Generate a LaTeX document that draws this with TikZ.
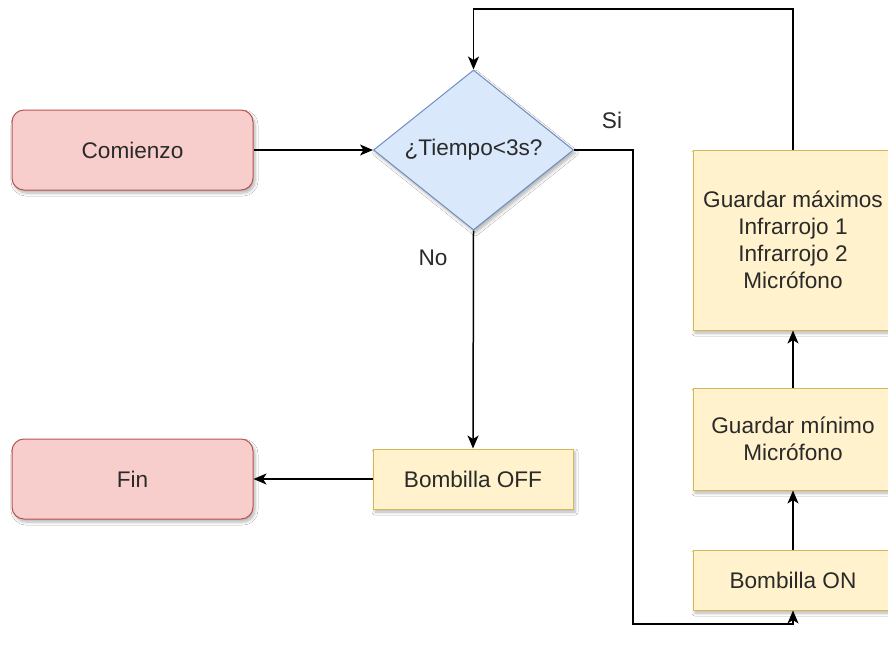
\documentclass[tikz,border=0pt]{standalone}
\usepackage{fontspec}
\setmainfont{Liberation Sans}
\usetikzlibrary{shapes.geometric,arrows.meta,shadows.blur}

\definecolor{termfill}{HTML}{F8CECC}
\definecolor{termline}{HTML}{B85450}
\definecolor{procfill}{HTML}{FFF2CC}
\definecolor{procline}{HTML}{D6B656}
\definecolor{decfill}{HTML}{DAE8FC}
\definecolor{decline}{HTML}{6C8EBF}
\definecolor{txt}{HTML}{2A2A2A}

\tikzset{
  softshadow/.style={blur shadow={shadow xshift=2pt,shadow yshift=-3pt,
      shadow blur steps=6,shadow blur radius=3pt,shadow opacity=30}},
  terminal/.style={draw=termline,fill=termfill,rounded corners=12pt,
      minimum width=241pt,minimum height=80pt,line width=1pt,softshadow},
  process/.style={draw=procline,fill=procfill,minimum width=200pt,
      line width=1pt,softshadow,align=center},
  decision/.style={draw=decline,fill=decfill,diamond,minimum width=200pt,
      minimum height=160pt,inner sep=0pt,line width=1pt,softshadow},
  flow/.style={line width=1.5pt,-{Stealth[length=13pt,width=11pt,inset=3.5pt]}},
  lbl/.style={text=txt,font=\fontsize{22.6}{27}\selectfont},
  every node/.append style={text=txt,font=\fontsize{22.6}{27}\selectfont},
}

\begin{document}
\begin{tikzpicture}[x=1pt,y=-1pt]
  \useasboundingbox[fill=white] (0,0) rectangle (888,654);

  % shapes
  \node[terminal] (start) at (132.5,150) {Comienzo};
  \node[decision] (dec) at (473.5,150) {¿Tiempo<3s?};
  \node[terminal] (fin) at (132.5,479) {Fin};
  \node[process,minimum height=60pt] (off) at (473,479) {Bombilla OFF};
  \node[process,minimum height=180pt] (maxv) at (793,240)
      {Guardar máximos\\Infrarrojo 1\\Infrarrojo 2\\Micrófono};
  \node[process,minimum height=102pt] (minv) at (793,439)
      {Guardar mínimo\\Micrófono};
  \node[process,minimum height=60pt] (on) at (793,580) {Bombilla ON};

  % branch labels
  \node[lbl] (si) at (612,120) {Si};
  \node[lbl] (no) at (433,258) {No};

  % turn points of the routed connectors
  \coordinate (yesA) at (633,150);
  \coordinate (yesB) at (633,624);
  \coordinate (loopA) at (793,9);
  \coordinate (loopB) at (473.5,9);

  % connectors
  \draw[flow] (start.east) -- (dec.west);
  \draw[flow] (dec.south) -- (off.north);
  \draw[flow] (off.west) -- (fin.east);
  \draw[flow] (dec.east) -- (yesA) -- (yesB) -- (yesB -| on.south) -- (on.south);
  \draw[flow] (on.north) -- (minv.south);
  \draw[flow] (minv.north) -- (maxv.south);
  \draw[flow] (maxv.north) -- (loopA) -- (loopB) -- (dec.north);
\end{tikzpicture}
\end{document}
